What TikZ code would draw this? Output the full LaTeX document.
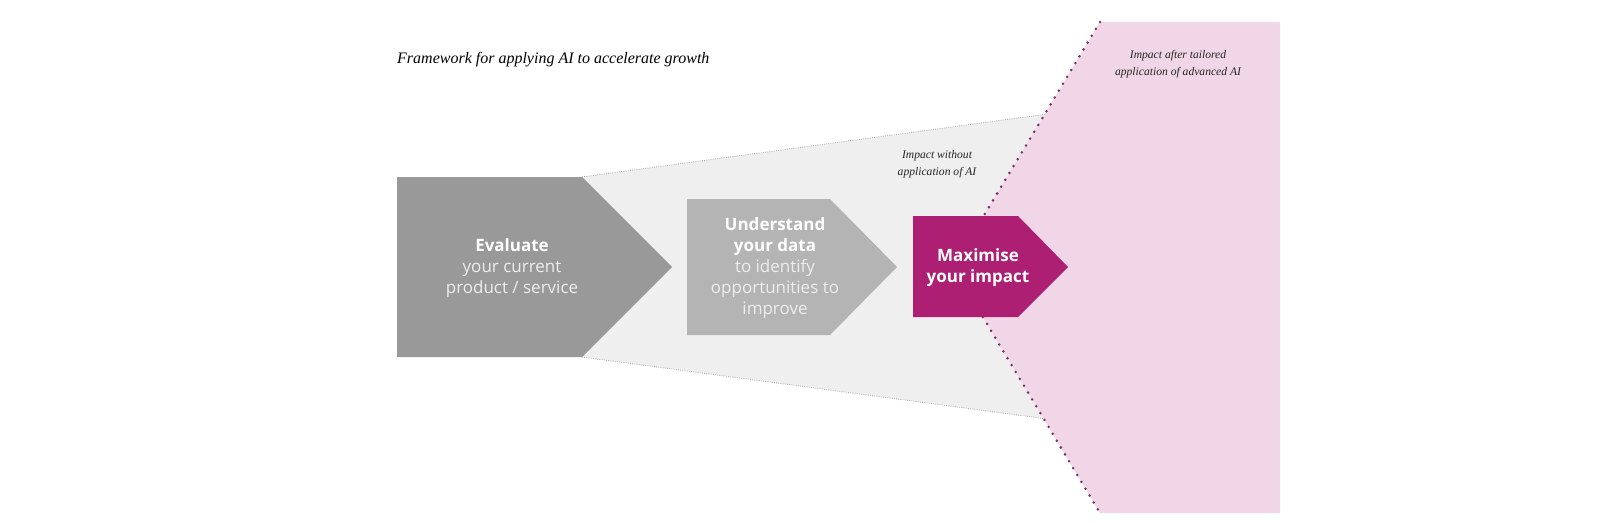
\documentclass[tikz,border=0pt]{standalone}
\usepackage{fontspec}
\setsansfont{Open Sans}
\newfontfamily\notefont{Liberation Serif}

\definecolor{evalgrey}{HTML}{999999}
\definecolor{datagrey}{HTML}{B4B4B4}
\definecolor{funnelgrey}{HTML}{EFEFEF}
\definecolor{impactpink}{HTML}{F0D6E7}
\definecolor{impactmag}{HTML}{AD1F72}
\definecolor{dotpurple}{HTML}{7B2D63}

\begin{document}
\begin{tikzpicture}[x=1pt,y=1pt,yscale=-1,xscale=1,
    steptext/.style={anchor=center,inner sep=0.75pt,align=center,text=white,
      font=\sffamily\fontsize{17}{21}\selectfont},
    notetext/.style={anchor=center,inner sep=0.75pt,align=center,text=black!85,
      font=\notefont\itshape\fontsize{11.6}{16.5}\selectfont}]
\useasboundingbox (0,0) rectangle (1600,522);

%Shape: Funnel without AI
\fill [funnelgrey] (582,177) -- (1070,111) -- (1070,422) -- (582,357) -- cycle ;
\draw [black!30, line width=0.9pt, dash pattern={on 0.9pt off 1.3pt}] (582,177) -- (1070,111) ;
\draw [black!30, line width=0.9pt, dash pattern={on 0.9pt off 1.3pt}] (582,357) -- (1070,422) ;

%Shape: Impact with AI
\fill [impactpink] (1100,22) -- (1280,22) -- (1280,513) -- (1100,513) -- (953,267) -- cycle ;
\draw [dotpurple, line width=2.8pt, line cap=round, dash pattern={on 0pt off 8pt}] (1100,22) -- (953,267) -- (1100,513) ;

%Shape: Evaluate arrow
\fill [evalgrey] (397,177) -- (582,177) -- (672,267) -- (582,357) -- (397,357) -- cycle ;
%Shape: Understand arrow
\fill [datagrey] (687,199) -- (830,199) -- (897,267) -- (830,335) -- (687,335) -- cycle ;
%Shape: Maximise arrow
\fill [impactmag] (913,216) -- (1018,216) -- (1068,267) -- (1018,317) -- (913,317) -- cycle ;

% Text Node
\draw (397,60) node [anchor=west][inner sep=0pt] (title) {\notefont\itshape\fontsize{16}{18}\selectfont Framework for applying AI to accelerate growth};
% Text Node
\draw (512,268) node [steptext] (evaltxt) {\textbf{Evaluate}\\{\color{white!93!black}your current}\\{\color{white!93!black}product / service}};
% Text Node
\draw (775,268) node [steptext] (datatxt) {\textbf{Understand}\\\textbf{your data}\\{\color{white!93!black}to identify}\\{\color{white!93!black}opportunities to}\\{\color{white!93!black}improve}};
% Text Node
\draw (978,268) node [steptext] (maxtxt) {\textbf{Maximise}\\\textbf{your impact}};
% Text Node
\draw (937,164) node [notetext] (withouttxt) {Impact without\\application of AI};
% Text Node
\draw (1178,64) node [notetext] (aftertxt) {Impact after tailored\\application of advanced AI};

\end{tikzpicture}
\end{document}
